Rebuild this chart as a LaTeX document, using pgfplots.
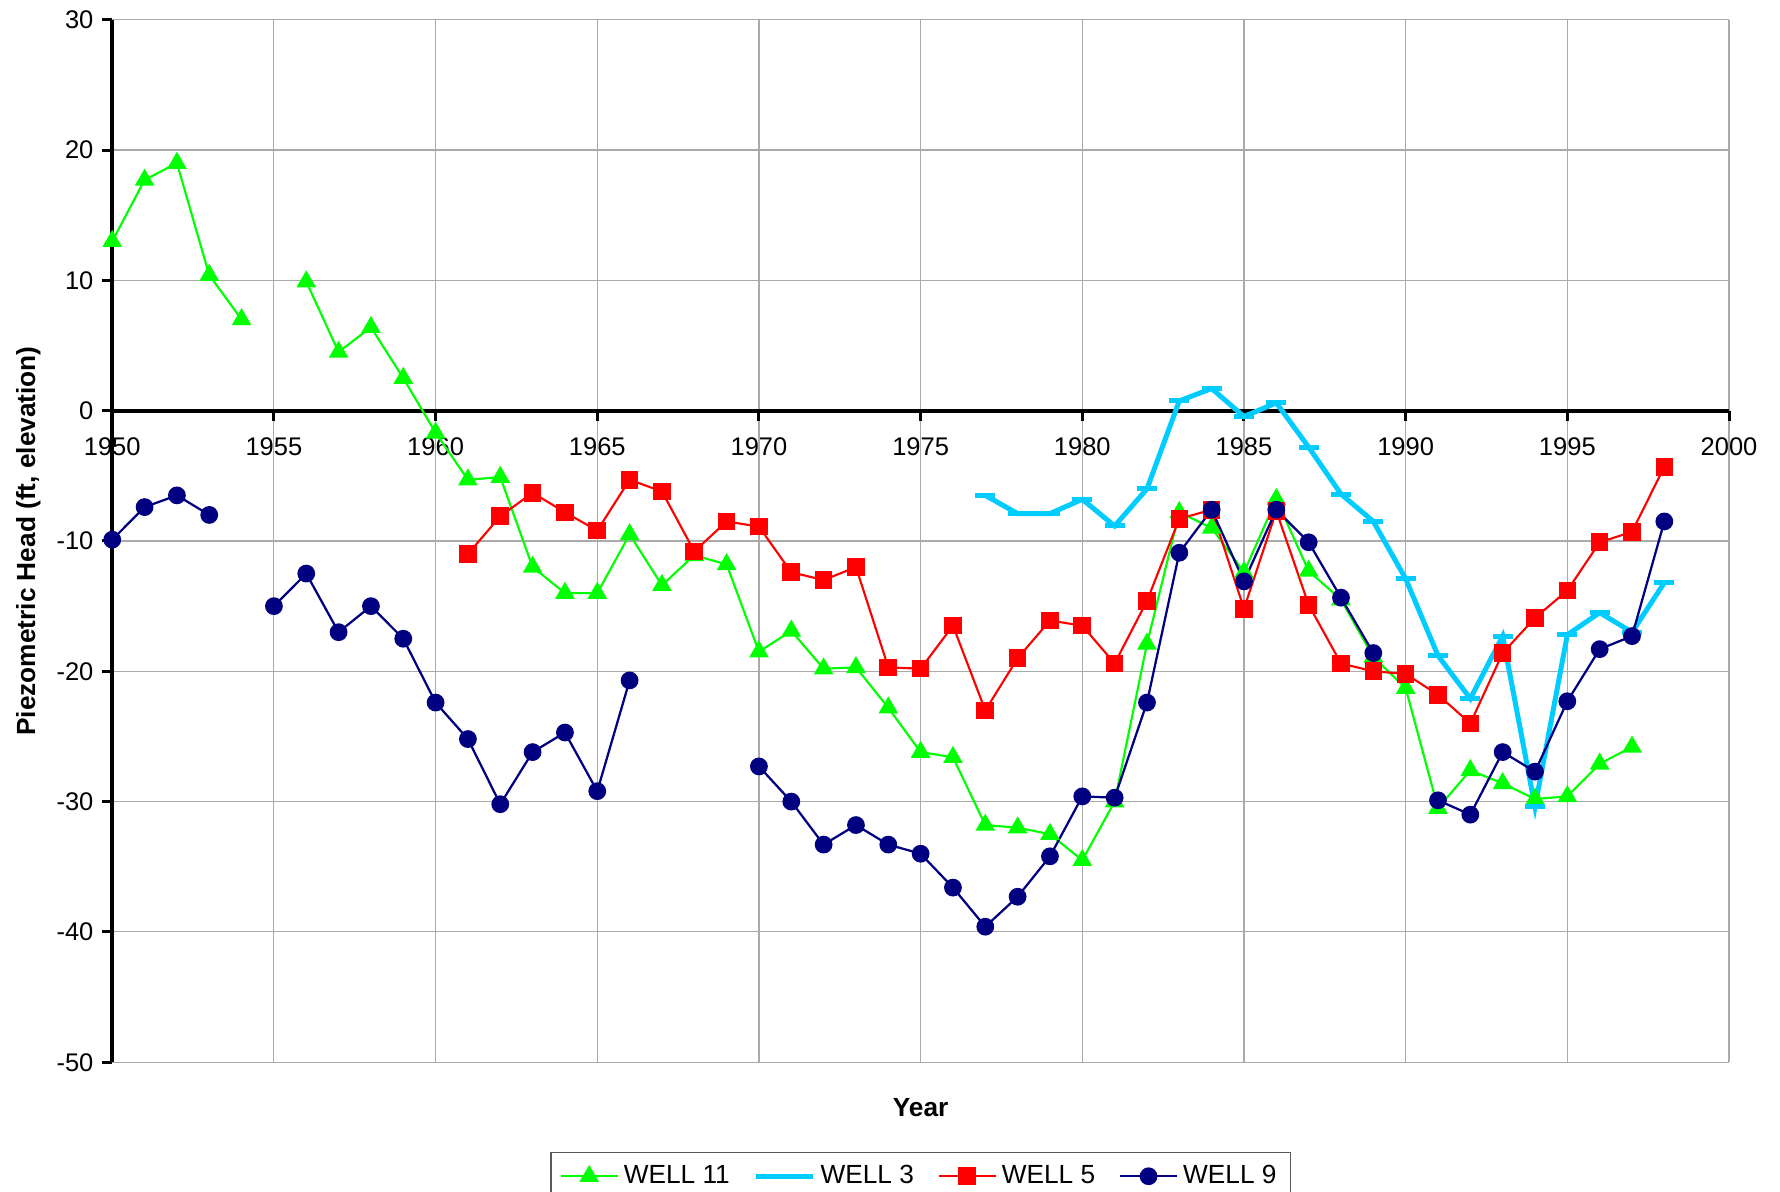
\documentclass[border=0pt]{standalone}
\usepackage{fontspec}
\setmainfont{Liberation Sans}
\usepackage{pgfplots}
\pgfplotsset{compat=1.18}
\usetikzlibrary{calc}
\definecolor{w11}{RGB}{0,255,0}
\definecolor{w3}{RGB}{0,204,255}
\definecolor{w5}{RGB}{255,0,0}
\definecolor{w9}{RGB}{0,0,128}
\definecolor{gridgray}{RGB}{170,170,170}
\begin{document}
\begin{tikzpicture}
\begin{axis}[
  scale only axis,
  width=646.7pt, height=417pt,
  xmin=1950, xmax=2000, ymin=-50, ymax=30,
  axis x line=middle, axis y line=left,
  axis line style={-, black, line width=1.6pt},
  xtick={1950,1955,...,2000}, ytick={-50,-40,...,30},
  hide obscured x ticks=false, hide obscured y ticks=false,
  grid=major, major grid style={gridgray, line width=0.45pt},
  tick align=outside,
  major tick length=4pt,
  tick style={black, line width=1.2pt},
  ticklabel style={font=\fontsize{10.2}{12}\selectfont},
  xticklabel style={yshift=-3.4pt},
  /pgf/number format/1000 sep={},
  /pgf/number format/assume math mode=true,
  clip=false,
  unbounded coords=jump,
  legend columns=4,
  legend style={at={(0.5,0)}, anchor=north, yshift=-35.9pt,
    draw=black!65, line width=0.6pt,
    font=\fontsize{10.5}{12}\selectfont,
    inner xsep=3.5pt, inner ysep=3pt,
    /tikz/every even column/.append style={column sep=7.5pt}},
  legend image code/.code={\draw[mark repeat=2,mark phase=2,#1] plot coordinates {(0pt,0pt) (11.4pt,0pt) (22.8pt,0pt)};},
]
\addplot[w11, line width=0.85pt, mark=triangle*, mark size=3.7pt, mark options={solid, fill=w11}] coordinates {
(1950,13.0) (1951,17.7) (1952,19.0) (1953,10.4) (1954,7.0) (1955,nan)
(1956,9.9) (1957,4.5) (1958,6.4) (1959,2.5) (1960,-1.7) (1961,-5.3)
(1962,-5.1) (1963,-12.0) (1964,-14.0) (1965,-14.0) (1966,-9.5) (1967,-13.4)
(1968,-11.1) (1969,-11.8) (1970,-18.5) (1971,-16.9) (1972,-19.8) (1973,-19.7)
(1974,-22.8) (1975,-26.2) (1976,-26.6) (1977,-31.8) (1978,-32.0) (1979,-32.5)
(1980,-34.5) (1981,-30.0) (1982,-17.9) (1983,-7.8) (1984,-9.0) (1985,-12.4)
(1986,-6.8) (1987,-12.3) (1988,-14.5) (1989,-18.9) (1990,-21.3) (1991,-30.5)
(1992,-27.6) (1993,-28.6) (1994,-29.8) (1995,-29.6) (1996,-27.1) (1997,-25.8)
};
\addlegendentry{WELL 11}
\addplot[w3, line width=2pt, mark=-, mark size=4pt, mark options={solid}] coordinates {
(1977,-6.5) (1978,-7.9) (1979,-7.9) (1980,-6.8) (1981,-8.85) (1982,-6.0)
(1983,0.75) (1984,1.7) (1985,-0.45) (1986,0.6) (1987,-2.8) (1988,-6.4)
(1989,-8.5) (1990,-12.9) (1991,-18.8) (1992,-22.1) (1993,-17.3) (1994,-30.4)
(1995,-17.2) (1996,-15.5) (1997,-17.0) (1998,-13.2)
};
\addlegendentry{WELL 3}
\addplot[w5, line width=0.85pt, mark=square*, mark size=3.1pt, mark options={solid, fill=w5}] coordinates {
(1961,-11.0) (1962,-8.1) (1963,-6.3) (1964,-7.8) (1965,-9.2) (1966,-5.3)
(1967,-6.2) (1968,-10.8) (1969,-8.5) (1970,-8.9) (1971,-12.4) (1972,-13.0)
(1973,-12.0) (1974,-19.7) (1975,-19.8) (1976,-16.5) (1977,-23.0) (1978,-19.0)
(1979,-16.1) (1980,-16.5) (1981,-19.4) (1982,-14.6) (1983,-8.3) (1984,-7.6)
(1985,-15.2) (1986,-7.7) (1987,-14.9) (1988,-19.4) (1989,-20.0) (1990,-20.2)
(1991,-21.8) (1992,-24.0) (1993,-18.6) (1994,-15.9) (1995,-13.8) (1996,-10.1)
(1997,-9.3) (1998,-4.3)
};
\addlegendentry{WELL 5}
\addplot[w9, line width=0.9pt, mark=*, mark size=3.1pt, mark options={solid, fill=w9}] coordinates {
(1950,-9.9) (1951,-7.4) (1952,-6.5) (1953,-8.0) (1954,nan)
(1955,-15.0) (1956,-12.5) (1957,-17.0) (1958,-15.0) (1959,-17.5) (1960,-22.4)
(1961,-25.2) (1962,-30.2) (1963,-26.2) (1964,-24.7) (1965,-29.2) (1966,-20.7)
(1967,nan)
(1970,-27.3) (1971,-30.0) (1972,-33.3) (1973,-31.8) (1974,-33.3) (1975,-34.0)
(1976,-36.6) (1977,-39.6) (1978,-37.3) (1979,-34.2) (1980,-29.6) (1981,-29.7)
(1982,-22.4) (1983,-10.9) (1984,-7.6) (1985,-13.1) (1986,-7.6) (1987,-10.1)
(1988,-14.35) (1989,-18.6) (1990,nan)
(1991,-29.9) (1992,-31.0) (1993,-26.2) (1994,-27.7) (1995,-22.3) (1996,-18.3)
(1997,-17.3) (1998,-8.5)
};
\addlegendentry{WELL 9}
\coordinate (SW) at (rel axis cs:0,0);
\coordinate (NE) at (rel axis cs:1,1);
\end{axis}
\node[rotate=90, font=\bfseries\fontsize{10.5}{12}\selectfont] at ($(SW)+(-33.6pt,208.5pt)$) {Piezometric Head (ft, elevation)};
\node[font=\bfseries\fontsize{10.5}{12}\selectfont] at ($(SW)+(323.35pt,-18pt)$) {Year};
\pgfresetboundingbox
\path[use as bounding box] ($(SW)+(-44.9pt,-51.9pt)$) rectangle ($(NE)+(20.4pt,7.9pt)$);
\end{tikzpicture}
\end{document}
